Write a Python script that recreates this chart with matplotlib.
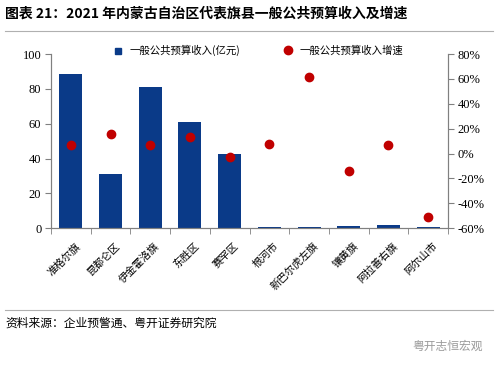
import numpy as np
import matplotlib.pyplot as plt
import matplotlib.transforms as mtransforms
from matplotlib.lines import Line2D
from matplotlib.ticker import FixedLocator

plt.rcParams['font.family'] = ['Noto Sans CJK SC', 'DejaVu Sans']

names = ['准格尔旗', '昆都仑区', '伊金霍洛旗', '东胜区', '赛罕区',
         '根河市', '新巴尔虎左旗', '镶黄旗', '阿拉善右旗', '阿尔山市']
income = [88.5, 31, 81, 61, 42.5, 0.6, 0.9, 1.4, 2.0, 0.7]   # 亿元
growth = [6.8, 15.6, 6.8, 13.0, -3.0, 7.6, 61.5, -14.0, 7.0, -51.4]  # %

bar_c = '#0a3a88'
dot_c = '#c00000'
grey = '#808080'
num_font = 'Liberation Serif'

fig = plt.figure(figsize=(5, 3.68), dpi=100)
ax = fig.add_axes([0.102, 0.380, 0.794, 0.473])
x = np.arange(len(names))
ax.bar(x, income, width=0.58, color=bar_c, zorder=2)
ax.set_xlim(-0.5, len(names) - 0.5)
ax.set_ylim(0, 100)
ax.set_yticks(range(0, 101, 20))
ax.set_yticklabels([str(v) for v in range(0, 101, 20)], family=num_font, fontsize=9)

ax2 = ax.twinx()
ax2.plot(x, growth, 'o', color=dot_c, markersize=6, zorder=3)
ax2.set_ylim(-60, 80)
ax2.set_yticks(range(-60, 81, 20))
ax2.set_yticklabels([f'{v}%' for v in range(-60, 81, 20)], family=num_font, fontsize=9)

# category labels, ticks between categories
ax.set_xticks(x)
ax.set_xticklabels(names, rotation=45, ha='right', rotation_mode='anchor', fontsize=7.5)
ax.tick_params(axis='x', length=0, pad=9)
offset = mtransforms.ScaledTranslation(4 / 100, 0, fig.dpi_scale_trans)
for lab in ax.get_xticklabels():
    lab.set_transform(lab.get_transform() + offset)
ax.xaxis.set_minor_locator(FixedLocator(np.arange(-0.5, len(names), 1)))
ax.tick_params(axis='x', which='minor', length=4, color=grey, direction='out')
ax.tick_params(axis='y', length=4, color=grey, pad=3)
ax2.tick_params(axis='y', length=4, color=grey, pad=3)

for a in (ax, ax2):
    a.spines['top'].set_visible(False)
    for s in ('left', 'right', 'bottom'):
        a.spines[s].set_color(grey)

# legends
h1 = Line2D([], [], marker='s', ls='', color=bar_c, markersize=5)
h2 = Line2D([], [], marker='o', ls='', color=dot_c, markersize=6)
fig.legend([h1], ['一般公共预算收入(亿元)'], loc='center left', bbox_to_anchor=(0.215, 0.862),
           frameon=False, fontsize=7.5, handletextpad=0.1, borderpad=0, borderaxespad=0)
fig.legend([h2], ['一般公共预算收入增速'], loc='center left', bbox_to_anchor=(0.555, 0.862),
           frameon=False, fontsize=7.5, handletextpad=0.1, borderpad=0, borderaxespad=0)

# title and footer
fig.text(0.01, 0.962, '图表 21：2021 年内蒙古自治区代表旗县一般公共预算收入及增速',
         fontsize=10, fontweight='bold', va='center')
fig.add_artist(Line2D([0.01, 0.985], [0.915, 0.915], color='#b0b0b0', lw=0.8))
fig.add_artist(Line2D([0.01, 0.985], [0.157, 0.157], color='#b0b0b0', lw=0.8))
fig.text(0.01, 0.122, '资料来源：企业预警通、粤开证券研究院', fontsize=8.5, va='center')
fig.text(0.965, 0.06, '粤开志恒宏观', fontsize=8.5, va='center', ha='right', color='#9a9a9a')

fig.savefig('out.png', dpi=100)
